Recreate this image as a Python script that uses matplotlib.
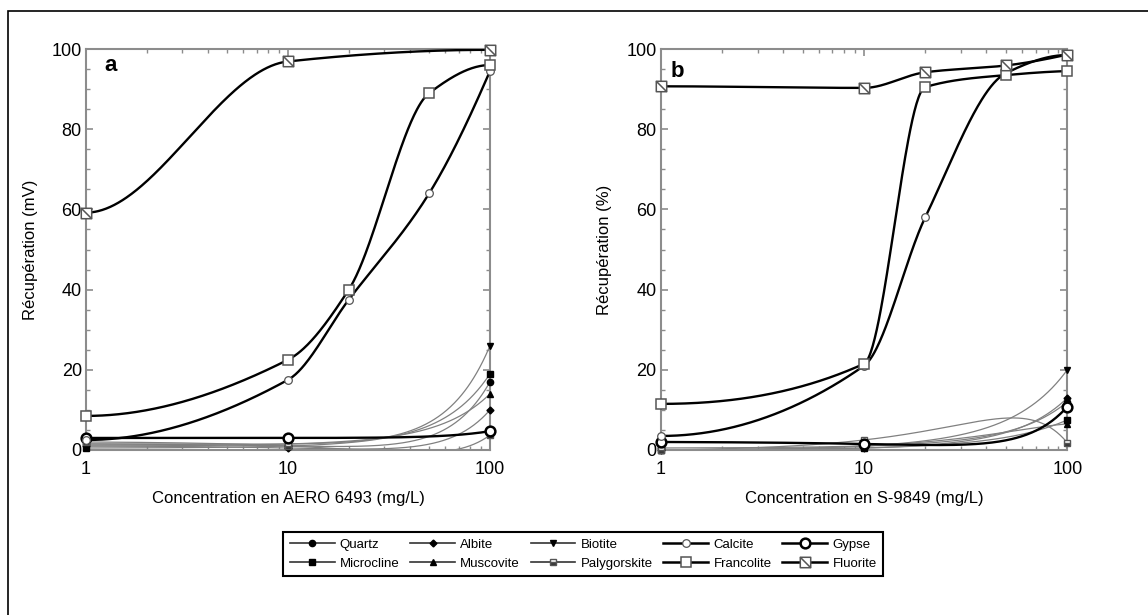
import numpy as np
import matplotlib
matplotlib.use("Agg")
import matplotlib.pyplot as plt
from matplotlib.path import Path
from matplotlib.lines import Line2D
from matplotlib.patches import Rectangle
from matplotlib.ticker import FixedLocator, NullFormatter, FixedFormatter

plt.rcParams['font.family'] = ['Liberation Sans', 'DejaVu Sans']

# concentrations (mg/L)
conc5 = [1, 10, 20, 50, 100]
conc3 = [1, 10, 100]

# panel a : AERO 6493
quartz_a = [1.5, 1.0, 17]
albite_a = [1.0, 0.5, 10]
biotite_a = [1.5, 1.5, 26]
microcline_a = [0.5, 1.0, 19]
muscovite_a = [1.0, 1.5, 14]
palygorskite_a = [2.0, 1.0, 3.7]
gypse_a = [3.0, 3.0, 4.7]
calcite_a = [2.5, 17.5, 37.5, 64, 94.5]
francolite_a = [8.5, 22.5, 40, 89, 96]
fluorite_a = [59.2, 96.9, 99.8]

# panel b : S-9849
quartz_b = [0.5, 1.0, 12]
albite_b = [0.0, 0.5, 13]
biotite_b = [0.0, 1.0, 20]
microcline_b = [0.0, 0.5, 7.5]
muscovite_b = [0.0, 1.0, 6.5]
palygorskite_b = [0.0, 2.5, 1.8]
gypse_b = [2.0, 1.5, 10.8]
calcite_b = [3.5, 21, 58, 94, 98.5]
francolite_b = [11.5, 21.5, 90.5, 93.5, 94.5]
fluorite_b = [90.7, 90.3, 94.2, 95.9, 98.6]

minerals = ['Quartz', 'Albite', 'Biotite', 'Calcite', 'Gypse',
            'Microcline', 'Muscovite', 'Palygorskite', 'Francolite', 'Fluorite']

data_a = {
    'Quartz': (conc3, quartz_a), 'Albite': (conc3, albite_a), 'Biotite': (conc3, biotite_a),
    'Microcline': (conc3, microcline_a), 'Muscovite': (conc3, muscovite_a),
    'Palygorskite': (conc3, palygorskite_a), 'Gypse': (conc3, gypse_a),
    'Calcite': (conc5, calcite_a), 'Francolite': (conc5, francolite_a), 'Fluorite': (conc3, fluorite_a),
}
data_b = {
    'Quartz': (conc3, quartz_b), 'Albite': (conc3, albite_b), 'Biotite': (conc3, biotite_b),
    'Microcline': (conc3, microcline_b), 'Muscovite': (conc3, muscovite_b),
    'Palygorskite': (conc3, palygorskite_b), 'Gypse': (conc3, gypse_b),
    'Calcite': (conc5, calcite_b), 'Francolite': (conc5, francolite_b), 'Fluorite': (conc5, fluorite_b),
}

# square with a diagonal
fluo_marker = Path([(-1, -1), (1, -1), (1, 1), (-1, 1), (-1, -1), (-1, 1), (1, -1)],
                   [Path.MOVETO, Path.LINETO, Path.LINETO, Path.LINETO, Path.CLOSEPOLY,
                    Path.MOVETO, Path.LINETO])

light = dict(color='#808080', lw=0.9, zorder=2)
heavy = dict(color='black', lw=1.7, zorder=3)
styles = {
    'Quartz': dict(marker='o', ms=4.5, mfc='black', mec='black', mew=1, line=light, fit='poly'),
    'Albite': dict(marker='D', ms=3.5, mfc='black', mec='black', mew=1, line=light, fit='poly'),
    'Biotite': dict(marker='v', ms=5, mfc='black', mec='black', mew=1, line=light, fit='poly'),
    'Microcline': dict(marker='s', ms=4.5, mfc='black', mec='black', mew=1, line=light, fit='poly'),
    'Muscovite': dict(marker='^', ms=5, mfc='black', mec='black', mew=1, line=light, fit='poly'),
    'Palygorskite': dict(marker='s', ms=5, mfc='#333333', mec='#555555', mew=1, line=light,
                         fit='poly', fillstyle='bottom'),
    'Gypse': dict(marker='o', ms=7, mfc='white', mec='black', mew=1.8, line=heavy, fit='poly'),
    'Calcite': dict(marker='o', ms=5.5, mfc='white', mec='#555555', mew=0.9, line=heavy, fit='smooth'),
    'Francolite': dict(marker='s', ms=7.5, mfc='white', mec='#555555', mew=1.1, line=heavy, fit='smooth'),
    'Fluorite': dict(marker=fluo_marker, ms=7.5, mfc='white', mec='#555555', mew=1.1, line=heavy,
                     fit='smooth'),
}


def pchip(x, y, xs):
    x = np.asarray(x, float)
    y = np.asarray(y, float)
    h = np.diff(x)
    d = np.diff(y) / h
    n = len(x)
    m = np.zeros(n)
    for k in range(1, n - 1):
        if d[k - 1] * d[k] > 0:
            w1 = 2 * h[k] + h[k - 1]
            w2 = h[k] + 2 * h[k - 1]
            m[k] = (w1 + w2) / (w1 / d[k - 1] + w2 / d[k])
    # flat start, free end
    s = ((2 * h[-1] + h[-2]) * d[-1] - h[-1] * d[-2]) / (h[-1] + h[-2])
    if np.sign(s) != np.sign(d[-1]):
        s = 0.0
    elif np.sign(d[-1]) != np.sign(d[-2]) and abs(s) > abs(3 * d[-1]):
        s = 3 * d[-1]
    m[-1] = s
    i = np.clip(np.searchsorted(x, xs) - 1, 0, n - 2)
    t = (xs - x[i]) / h[i]
    h00 = 2 * t**3 - 3 * t**2 + 1
    h10 = t**3 - 2 * t**2 + t
    h01 = -2 * t**3 + 3 * t**2
    h11 = t**3 - t**2
    return h00 * y[i] + h10 * h[i] * m[i] + h01 * y[i + 1] + h11 * h[i] * m[i + 1]


def curve(xd, yd, fit):
    xs = np.logspace(0, 2, 400)
    if fit == 'poly':
        ys = np.polyval(np.polyfit(xd, yd, len(xd) - 1), xs)
    else:
        ys = pchip(np.log10(xd), yd, np.log10(xs))
    return xs, ys


def draw_panel(ax, data, ylabel, xlabel, letter, lx, ly):
    order = ['Quartz', 'Albite', 'Biotite', 'Microcline', 'Muscovite', 'Palygorskite',
             'Gypse', 'Calcite', 'Francolite', 'Fluorite']
    for name in order:
        xd, yd = data[name]
        st = styles[name]
        xs, ys = curve(xd, yd, st['fit'])
        ax.plot(xs, ys, **st['line'])
        ax.plot(xd, yd, ls='none', marker=st['marker'], ms=st['ms'], mfc=st['mfc'],
                mec=st['mec'], mew=st['mew'], fillstyle=st.get('fillstyle', 'full'),
                markerfacecoloralt='white', zorder=4, clip_on=False)
    ax.set_xscale('log')
    ax.set_xlim(1, 100)
    ax.set_ylim(0, 100)
    ax.xaxis.set_major_locator(FixedLocator([1, 10, 100]))
    ax.xaxis.set_major_formatter(FixedFormatter(['1', '10', '100']))
    ax.xaxis.set_minor_locator(FixedLocator([k * 10**e for e in (0, 1) for k in range(2, 10)]))
    ax.xaxis.set_minor_formatter(NullFormatter())
    ax.set_yticks([0, 20, 40, 60, 80, 100])
    ax.set_yticks(np.arange(0, 101, 5), minor=True)
    ax.tick_params(which='both', direction='in', top=True, right=True, color='#8c8c8c',
                   labelsize=13)
    ax.tick_params(axis='y', which='major', pad=3)
    ax.tick_params(axis='x', which='major', pad=8)
    ax.tick_params(which='major', length=5, width=1.2)
    ax.tick_params(which='minor', length=3, width=1)
    for sp in ax.spines.values():
        sp.set_color('#8c8c8c')
        sp.set_linewidth(1.5)
    ax.set_ylabel(ylabel, fontsize=12, labelpad=10)
    ax.set_xlabel(xlabel, fontsize=12, labelpad=9)
    ax.text(lx, ly, letter, transform=ax.transAxes, fontsize=16, fontweight='bold',
            va='baseline', ha='left')


fig = plt.figure(figsize=(11.48, 6.15), dpi=100)
ax_a = fig.add_axes([0.0749, 0.2683, 0.3519, 0.652])
ax_b = fig.add_axes([0.5755, 0.2683, 0.3542, 0.652])

draw_panel(ax_a, data_a, 'Récupération (mV)', 'Concentration en AERO 6493 (mg/L)', 'a', 0.045, 0.945)
draw_panel(ax_b, data_b, 'Récupération (%)', 'Concentration en S-9849 (mg/L)', 'b', 0.025, 0.93)

# legend, column by column
handles = []
labels = []
for k in range(5):
    for name in (minerals[k], minerals[k + 5]):
        st = styles[name]
        ln = dict(st['line'])
        ln['color'] = '#333333' if st['line'] is light else 'black'
        ln['lw'] = 1.2 if st['line'] is light else 1.8
        ln.pop('zorder')
        handles.append(Line2D([], [], marker=st['marker'], ms=st['ms'], mfc=st['mfc'],
                              mec=st['mec'], mew=st['mew'], fillstyle=st.get('fillstyle', 'full'),
                              markerfacecoloralt='white', **ln))
        labels.append(name)

leg = fig.legend(handles, labels, ncol=5, loc='center', bbox_to_anchor=(0.508, 0.099),
                 frameon=True, fancybox=False, edgecolor='black', framealpha=1, fontsize=9.5,
                 handlelength=3.4, columnspacing=0.8, handletextpad=0.4, borderpad=0.5,
                 labelspacing=0.5)
leg.get_frame().set_linewidth(1.5)

# outer frame of the original figure
fig.add_artist(Rectangle((8 / 1148, -0.2), 1.2, 1.2 - 10.5 / 615, transform=fig.transFigure,
                         fill=False, edgecolor='black', lw=1.2))

fig.savefig('out.png', dpi=100)
